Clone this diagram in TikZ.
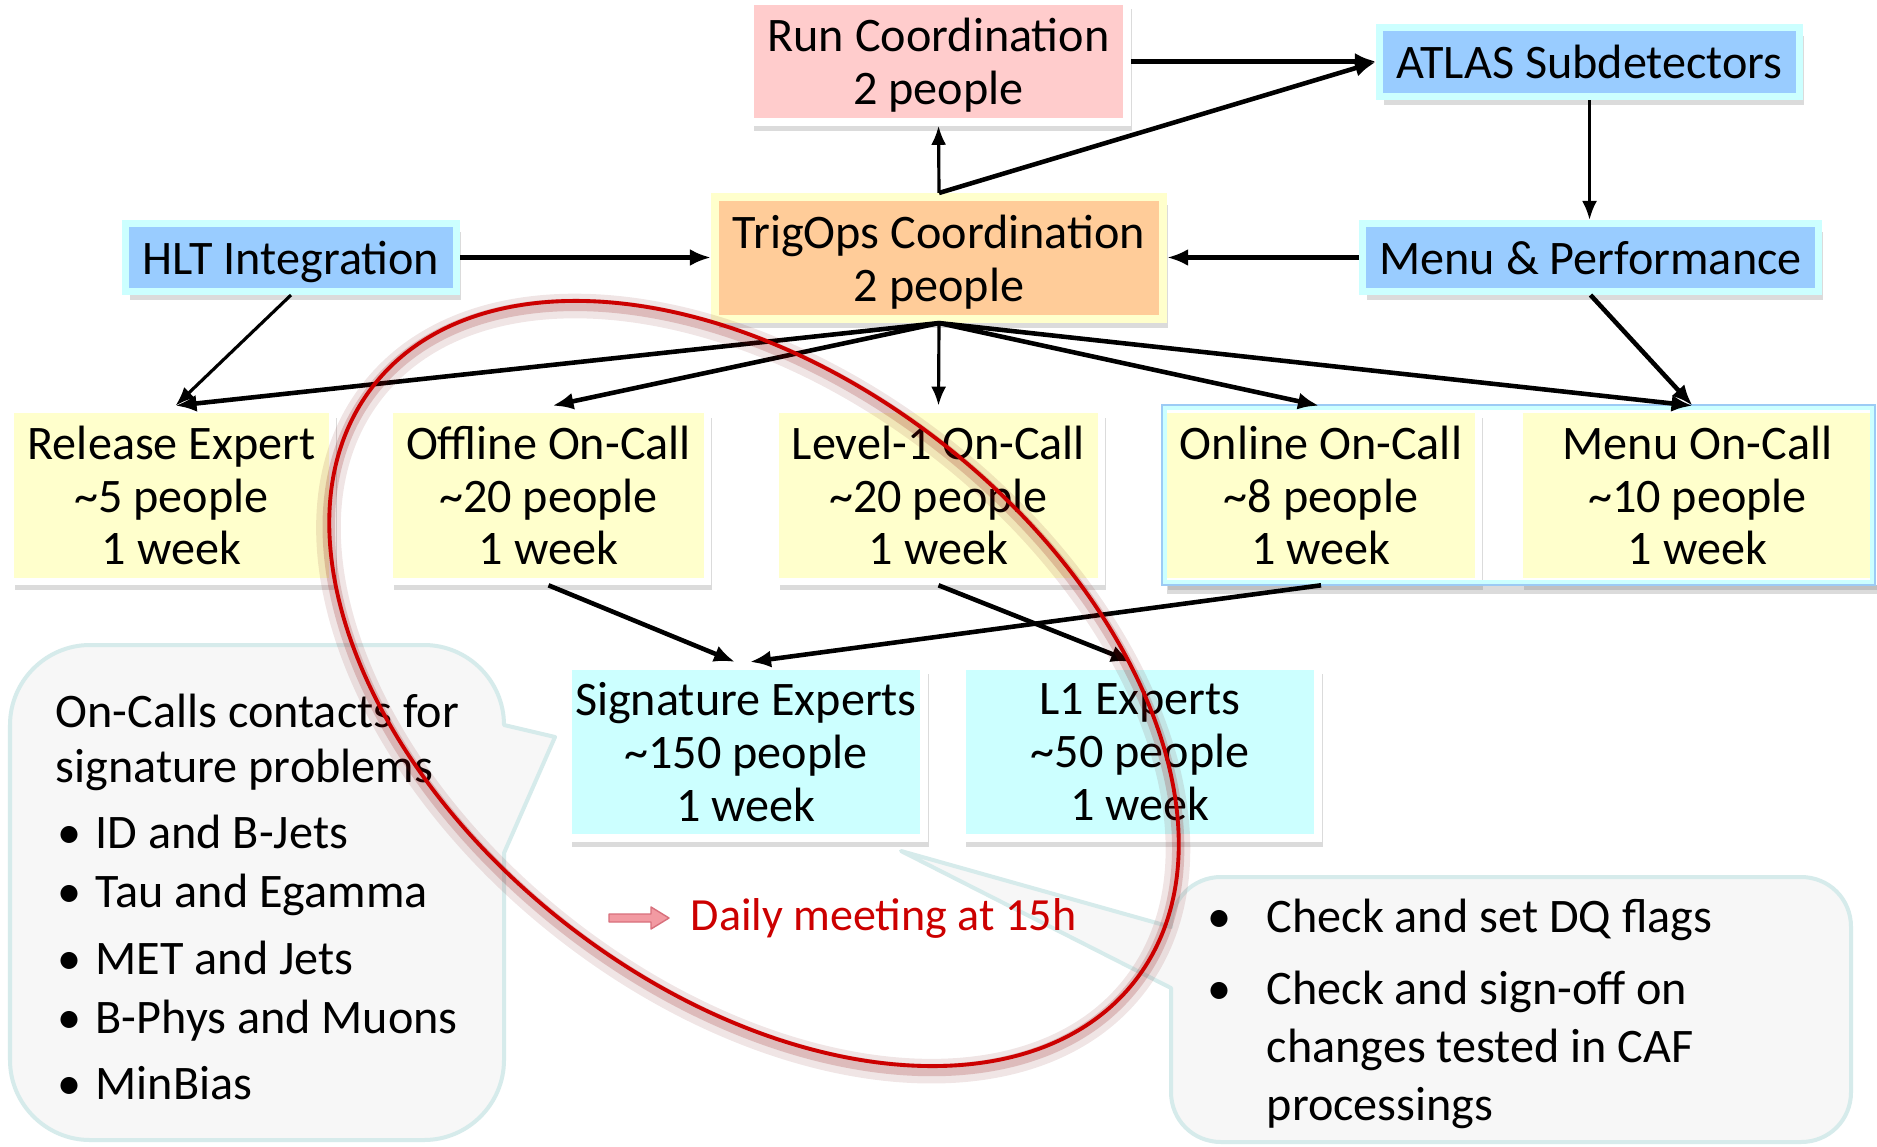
\documentclass[tikz,border=0pt]{standalone}
\usepackage{fontspec}
\setmainfont{Carlito}
\usetikzlibrary{arrows.meta,shadows}

\definecolor{pinkfill}{HTML}{FFCCCC}
\definecolor{orangefill}{HTML}{FFCC99}
\definecolor{bluefill}{HTML}{99CCFF}
\definecolor{cyanfill}{HTML}{CCFFFF}
\definecolor{yellowfill}{HTML}{FFFFCC}
\definecolor{calloutfill}{HTML}{F7F7F7}
\definecolor{calloutline}{HTML}{D6EBEB}
\definecolor{alertred}{HTML}{CC0000}
\definecolor{groupblue}{HTML}{9CCBF5}
\definecolor{arrowpink}{HTML}{F29AA2}
\definecolor{arrowpinkdark}{HTML}{D8707C}

\tikzset{
  boxtext/.style={font=\fontsize{13.7}{15}\selectfont, align=center, inner sep=0pt, text depth=0pt},
  softshadow/.style={drop shadow={shadow xshift=0.45mm, shadow yshift=-0.85mm, opacity=0.25, fill=black!55}},
  paperbox/.style={boxtext, draw=white, line width=0.075cm, softshadow},
  bevelbox/.style={boxtext, line width=0.07cm, softshadow},
  conn/.style={line width=1.3pt, -{Latex[length=0.21cm,width=0.17cm]}},
  connthin/.style={line width=0.9pt, -{Latex[length=0.19cm,width=0.15cm]}},
  plaintext/.style={font=\fontsize{13.7}{15}\selectfont, inner sep=0pt, anchor=west},
  bubble/.style={fill=calloutfill, draw=calloutline, line width=0.04cm, line join=round},
}

\begin{document}
\begin{tikzpicture}[x=0.01cm, y=-0.01cm]
\fill[white] (0,0) rectangle (1877,1146);
\useasboundingbox (0,0) rectangle (1877,1146);

% ---- speech bubbles ----
\path[bubble] (504,853) -- (555,737) -- (504,725)
  .. controls (504,681) and (468,645) .. (424,645)
  -- (90,645) .. controls (46,645) and (10,681) .. (10,725)
  -- (10,1060) .. controls (10,1104) and (46,1140) .. (90,1140)
  -- (424,1140) .. controls (468,1140) and (504,1104) .. (504,1060)
  -- cycle;

\path[bubble] (1171,988) -- (901,851) -- (1171,927)
  .. controls (1171,899) and (1193,877) .. (1221,877)
  -- (1801,877) .. controls (1829,877) and (1851,899) .. (1851,927)
  -- (1851,1092) .. controls (1851,1120) and (1829,1142) .. (1801,1142)
  -- (1221,1142) .. controls (1193,1142) and (1171,1120) .. (1171,1092)
  -- cycle;

% ---- coordination level ----
\node[paperbox, fill=pinkfill, minimum width=3.77cm, minimum height=1.21cm] (run) at (938.5,61.5) {Run Coordination\\2 people};
\node[bevelbox, fill=bluefill, draw=cyanfill, minimum width=4.20cm, minimum height=0.69cm] (atlas) at (1589.5,62) {ATLAS Subdetectors};
\node[bevelbox, fill=orangefill, draw=yellowfill, line width=0.08cm, minimum width=4.48cm, minimum height=1.22cm] (trigops) at (939,258) {TrigOps Coordination\\2 people};
\node[bevelbox, fill=bluefill, draw=cyanfill, minimum width=3.31cm, minimum height=0.68cm] (hlt) at (291,257.5) {HLT Integration};
\node[bevelbox, fill=bluefill, draw=cyanfill, minimum width=4.56cm, minimum height=0.68cm] (menuperf) at (1590.5,257.5) {Menu \& Performance};

% ---- on-call level ----
\node[paperbox, fill=yellowfill, minimum width=3.22cm, minimum height=1.72cm] (release) at (171.5,495.5) {Release Expert\\\textasciitilde5 people\\1 week};
\node[paperbox, fill=yellowfill, minimum width=3.18cm, minimum height=1.72cm] (offline) at (548.5,495.5) {Offline On-Call\\\textasciitilde20 people\\1 week};
\node[paperbox, fill=yellowfill, minimum width=3.26cm, minimum height=1.72cm] (level1) at (938.5,495.5) {Level-1 On-Call\\\textasciitilde20 people\\1 week};

% online group frame
\path[fill=white, softshadow] (1162,405) rectangle (1875,585);
\node[paperbox, fill=yellowfill, minimum width=3.15cm, minimum height=1.72cm] (online) at (1321,495.5) {Online On-Call\\\textasciitilde8 people\\1 week};
\node[paperbox, fill=yellowfill, minimum width=3.56cm, minimum height=1.72cm] (menuoncall) at (1697.5,495.5) {Menu On-Call\\\textasciitilde10 people\\1 week};
\draw[cyanfill, line width=0.045cm] (1165,408) rectangle (1872,582);
\draw[groupblue, line width=0.022cm] (1162,405) rectangle (1875,585);

% ---- expert level ----
\node[paperbox, fill=cyanfill, line width=0.08cm, minimum width=3.56cm, minimum height=1.72cm] (sig) at (746,752) {Signature Experts\\\textasciitilde150 people\\1 week};
\node[paperbox, fill=cyanfill, line width=0.08cm, minimum width=3.56cm, minimum height=1.72cm] (l1) at (1140,752) {L1 Experts\\\textasciitilde50 people\\1 week};

% ---- connectors ----
\draw[conn] (run.east) -- (run.east -| atlas.west);
\draw[connthin] (trigops.north) -- (run.south);
\draw[conn] (trigops.north) -- (atlas.west);
\draw[connthin] (atlas.south) -- (atlas.south |- menuperf.north);
\draw[conn] (hlt.east) -- (hlt.east -| trigops.west);
\draw[conn] (menuperf.west) -- (menuperf.west -| trigops.east);

\draw[connthin] (hlt.south) -- ([xshift=0.04cm]release.north);
\draw[conn] (trigops.south) -- ([xshift=0.04cm]release.north);
\draw[conn] (trigops.south) -- ([xshift=0.04cm]offline.north);
\draw[connthin] (trigops.south) -- (level1.north);
\draw[conn] (trigops.south) -- ([xshift=-0.02cm]online.north);
\draw[conn] (trigops.south) -- ([xshift=-0.05cm]menuoncall.north);
\draw[conn] (menuperf.south) -- ([xshift=-0.05cm]menuoncall.north);

\draw[conn] (offline.south) -- ([xshift=-0.11cm]sig.north);
\draw[conn] (online.south) -- ([xshift=0.04cm]sig.north);
\draw[conn] (level1.south) -- ([xshift=-0.08cm]l1.north);

% ---- bubble texts ----
\node[plaintext] (lh1) at (55,711) {On-Calls contacts for};
\node[plaintext] (lh2) at (55,770) {signature problems};
\node[plaintext] (li1) at (57,832) {\makebox[0.38cm][l]{•}ID and B-Jets};
\node[plaintext] (li2) at (57,895) {\makebox[0.38cm][l]{•}Tau and Egamma};
\node[plaintext] (li3) at (57,958) {\makebox[0.38cm][l]{•}MET and Jets};
\node[plaintext] (li4) at (57,1021) {\makebox[0.38cm][l]{•}B-Phys and Muons};
\node[plaintext] (li5) at (57,1083) {\makebox[0.38cm][l]{•}MinBias};

\node[plaintext] (ri1) at (1207,920) {\makebox[0.59cm][l]{•}Check and set DQ flags};
\node[plaintext] (ri2) at (1207,992) {\makebox[0.59cm][l]{•}Check and sign-off on};
\node[plaintext] (ri3) at (1266,1050) {changes tested in CAF};
\node[plaintext] (ri4) at (1266,1108) {processings};

% ---- daily meeting note ----
\filldraw[fill=arrowpink, draw=arrowpinkdark, line width=0.4pt, line join=round]
  (609,914) -- (651,914) -- (651,907) -- (669,918) -- (651,929) -- (651,922) -- (609,922) -- cycle;
\node[plaintext, font=\fontsize{13.1}{15}\selectfont, text=alertred] (daily) at (690,918) {Daily meeting at 15h};

% ---- highlight ring ----
\begin{scope}[rotate around={-38:(754,683.5)}]
  \draw[red!45!black, opacity=0.10, line width=7pt, shift={(0.025cm,-0.045cm)}] (754,683.5) ellipse [x radius=4.83cm, y radius=3.05cm];
  \draw[red!55!black, opacity=0.18, line width=3.5pt, shift={(0.02cm,-0.035cm)}] (754,683.5) ellipse [x radius=4.83cm, y radius=3.05cm];
  \draw[alertred, line width=1.1pt] (754,683.5) ellipse [x radius=4.83cm, y radius=3.05cm];
\end{scope}
\end{tikzpicture}
\end{document}
